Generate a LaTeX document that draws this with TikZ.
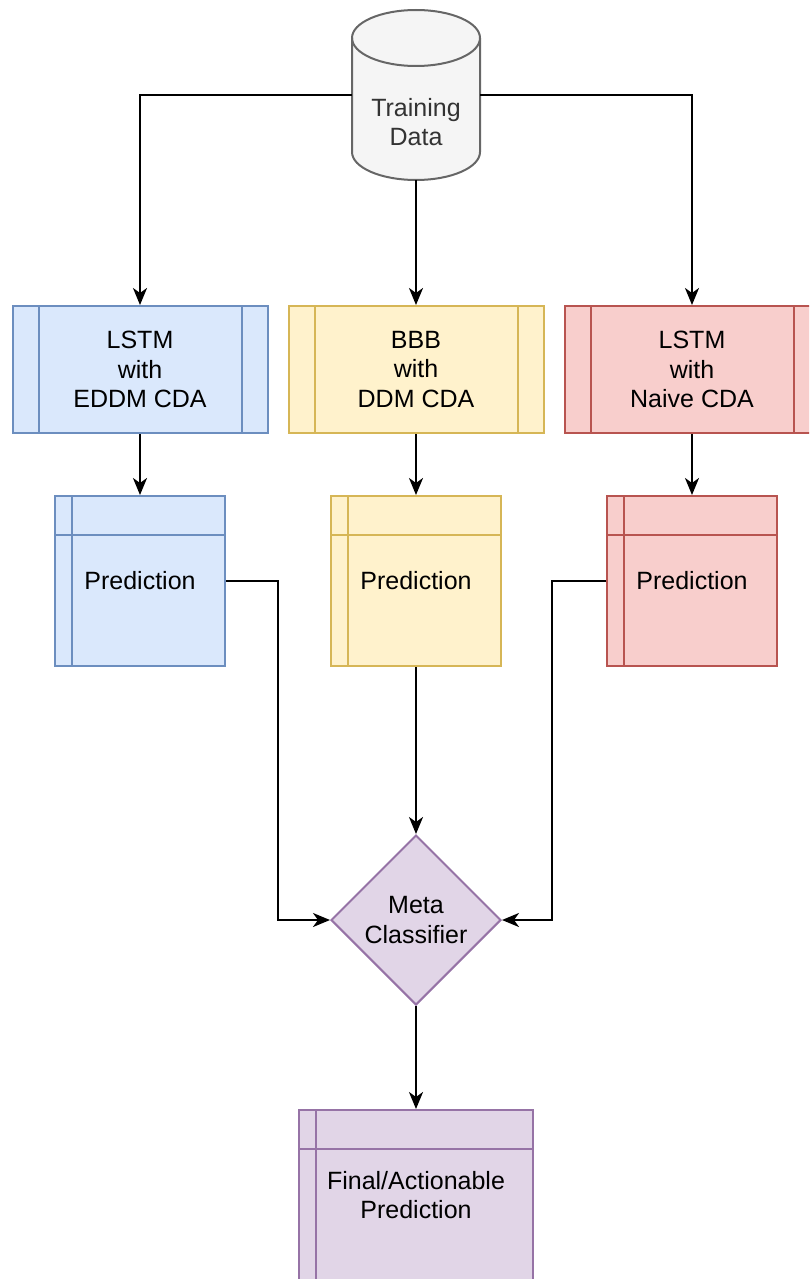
\documentclass[tikz,border=0pt]{standalone}
\usepackage{fontspec}
\setmainfont{Liberation Sans}
\usetikzlibrary{arrows.meta,shapes.geometric,calc}

\definecolor{bluefill}{HTML}{DAE8FC}
\definecolor{bluedraw}{HTML}{6C8EBF}
\definecolor{yellowfill}{HTML}{FFF2CC}
\definecolor{yellowdraw}{HTML}{D6B656}
\definecolor{redfill}{HTML}{F8CECC}
\definecolor{reddraw}{HTML}{B85450}
\definecolor{purplefill}{HTML}{E1D5E7}
\definecolor{purpledraw}{HTML}{9673A6}
\definecolor{dbfill}{HTML}{F5F5F5}
\definecolor{dbdraw}{HTML}{666666}
\definecolor{dbtext}{HTML}{333333}

\tikzset{
  label text/.style={font=\fontsize{25}{29.5}\selectfont, align=center},
  % process box: rectangle with a bar on each side
  procbox/.style 2 args={rectangle, label text, fill=#1, draw=#2, line width=2pt,
    minimum width=255pt, minimum height=127pt, inner sep=0pt,
    path picture={
      \draw[#2, line width=2pt]
        ([xshift=26pt]path picture bounding box.north west) --
        ([xshift=26pt]path picture bounding box.south west)
        ([xshift=-26pt]path picture bounding box.north east) --
        ([xshift=-26pt]path picture bounding box.south east);
    }},
  % internal storage box: one vertical and one horizontal divider
  storebox/.style n args={4}{rectangle, label text, fill=#1, draw=#2, line width=2pt,
    minimum width=#3, minimum height=#4, inner sep=0pt,
    path picture={
      \draw[#2, line width=2pt]
        ([xshift=17pt]path picture bounding box.north west) --
        ([xshift=17pt]path picture bounding box.south west)
        ([yshift=-39pt]path picture bounding box.north west) --
        ([yshift=-39pt]path picture bounding box.north east);
    }},
  decision/.style={diamond, label text, fill=purplefill, draw=purpledraw, line width=2pt,
    minimum width=170pt, minimum height=170pt, inner sep=0pt, aspect=1},
  arr/.style={draw=black, line width=2.2pt,
    -{Stealth[length=17pt, width=14pt, inset=5pt]}},
}

\begin{document}
\begin{tikzpicture}[x=1pt, y=-1pt]
\useasboundingbox (0,0) rectangle (809,1279);
\clip (0,0) rectangle (809,1279);

% database cylinder
\filldraw[fill=dbfill, draw=dbdraw, line width=2pt]
  (352,38) -- (352,152)
  arc[start angle=180, end angle=0, x radius=64, y radius=28]
  -- (480,38)
  arc[start angle=0, end angle=-180, x radius=64, y radius=28] -- cycle;
\draw[dbdraw, line width=2pt]
  (352,38) arc[start angle=180, end angle=0, x radius=64, y radius=28];
\node[minimum width=128pt, minimum height=170pt, inner sep=0pt] (data) at (416,95) {};
\node[label text, text=dbtext] (datalabel) at (416,122) {Training\\Data};

% learners
\node[procbox={bluefill}{bluedraw}]     (m1) at (140,369.5) {LSTM\\with\\EDDM CDA};
\node[procbox={yellowfill}{yellowdraw}] (m2) at (416,369.5) {BBB\\with\\DDM CDA};
\node[procbox={redfill}{reddraw}]       (m3) at (692,369.5) {LSTM\\with\\Naive CDA};

% predictions
\node[storebox={bluefill}{bluedraw}{170pt}{170pt}]     (p1) at (140,581) {Prediction};
\node[storebox={yellowfill}{yellowdraw}{170pt}{170pt}] (p2) at (416,581) {Prediction};
\node[storebox={redfill}{reddraw}{170pt}{170pt}]       (p3) at (692,581) {Prediction};

% meta classifier and final output
\node[decision] (meta) at (416,920) {Meta\\Classifier};
\node[storebox={purplefill}{purpledraw}{234pt}{170pt}] (final) at (416,1195)
  {Final/Actionable\\Prediction};

% connectors
\draw[arr] (data.west) -| (m1.north);
\draw[arr] (data.south) -- (m2.north);
\draw[arr] (data.east) -| (m3.north);
\draw[arr] (m1.south) -- (p1.north);
\draw[arr] (m2.south) -- (p2.north);
\draw[arr] (m3.south) -- (p3.north);
\draw[arr] (p1.east) -- ++(52,0) |- (meta.west);
\draw[arr] (p2.south) -- (meta.north);
\draw[arr] (p3.west) -- ++(-54,0) |- (meta.east);
\draw[arr] (meta.south) -- (final.north);
\end{tikzpicture}
\end{document}
